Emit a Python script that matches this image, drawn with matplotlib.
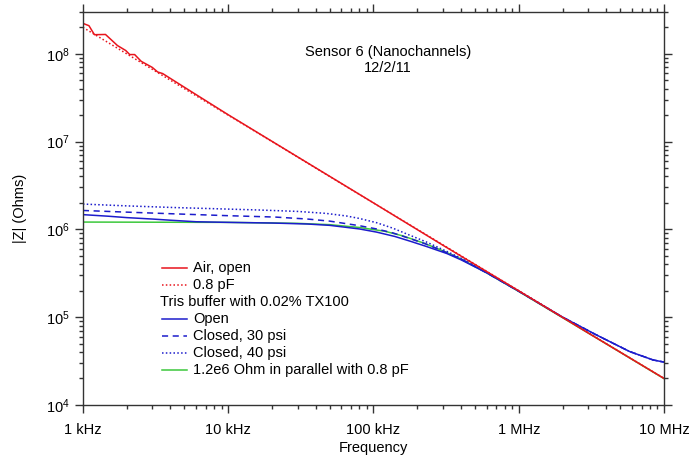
import matplotlib
matplotlib.use("Agg")
import matplotlib.pyplot as plt
from matplotlib.ticker import FixedLocator, FixedFormatter, LogLocator, NullFormatter

plt.rcParams["font.family"] = ["Liberation Sans", "DejaVu Sans"]
plt.rcParams["mathtext.fontset"] = "custom"
plt.rcParams["mathtext.rm"] = "Liberation Sans"

# --- data (frequency in Hz, |Z| in Ohms) ---
freq_air = [1000, 1100, 1200, 1430, 1730, 1970, 2100, 2270, 2520, 3000, 3270, 3540,
            5000, 10000, 30000, 100000, 300000, 1e6, 3e6, 1e7]
z_air = [2.22e8, 2.09e8, 1.65e8, 1.66e8, 1.24e8, 1.09e8, 9.8e7, 9.8e7, 8.2e7, 7.0e7,
         6.2e7, 5.95e7, 4.15e7, 2.02e7, 6.7e6, 2.0e6, 6.6e5, 1.99e5, 6.6e4, 2.0e4]

freq_cap = [1000, 1e7]
z_cap = [2.0e8, 2.0e4]

freq_open = [1e3, 1.5e3, 2e3, 3e3, 4e3, 6e3, 1e4, 2e4, 3.5e4, 5e4, 8e4, 1.05e5, 1.4e5,
             1.8e5, 2.3e5, 3.2e5, 4e5, 6e5, 1e6, 2e6, 3.4e6, 5.8e6, 8.4e6, 1e7]
z_open = [1.47e6, 1.41e6, 1.36e6, 1.31e6, 1.27e6, 1.22e6, 1.20e6, 1.18e6, 1.15e6, 1.11e6,
          1.01e6, 9.3e5, 8.3e5, 7.3e5, 6.4e5, 5.3e5, 4.5e5, 3.2e5, 1.97e5, 1.0e5, 6.3e4,
          4.05e4, 3.25e4, 3.07e4]

freq_30 = [1e3, 2e3, 4.3e3, 1e4, 2.1e4, 3.5e4, 5e4, 8e4, 1.05e5, 1.36e5, 1.8e5, 2.3e5,
           3.2e5, 4e5, 6e5, 1e6, 2e6, 3.4e6, 5.8e6, 8.4e6, 1e7]
z_30 = [1.64e6, 1.57e6, 1.50e6, 1.43e6, 1.38e6, 1.31e6, 1.24e6, 1.10e6, 1.01e6, 9.1e5,
        7.8e5, 6.8e5, 5.4e5, 4.6e5, 3.2e5, 1.97e5, 1.0e5, 6.3e4, 4.05e4, 3.25e4, 3.07e4]

freq_40 = [1e3, 2e3, 4.3e3, 1e4, 1.64e4, 3e4, 4.7e4, 6.5e4, 8e4, 1.05e5, 1.36e5, 1.8e5,
           2.3e5, 3.2e5, 4e5, 6e5, 1e6, 2e6, 3.4e6, 5.8e6, 8.4e6, 1e7]
z_40 = [1.94e6, 1.85e6, 1.77e6, 1.70e6, 1.66e6, 1.60e6, 1.52e6, 1.42e6, 1.33e6, 1.19e6,
        1.03e6, 8.5e5, 7.2e5, 5.6e5, 4.7e5, 3.25e5, 1.98e5, 1.0e5, 6.3e4, 4.05e4, 3.25e4,
        3.07e4]

freq_model = [1e3, 1e4, 3e4, 5e4, 8e4, 1.2e5, 1.6e5, 2.2e5, 3e5, 4e5, 6e5, 1e6, 3e6, 1e7]
z_model = [1.21e6, 1.20e6, 1.17e6, 1.13e6, 1.05e6, 9.5e5, 8.4e5, 7.0e5, 5.7e5, 4.6e5,
           3.2e5, 1.96e5, 6.6e4, 1.99e4]

x_ticks = [1e3, 1e4, 1e5, 1e6, 1e7]
x_tick_labels = ["1 kHz", "10 kHz", "100 kHz", "1 MHz", "10 MHz"]
y_ticks = [1e4, 1e5, 1e6, 1e7, 1e8]
y_tick_labels = [r"$\mathrm{10^{4}}$", r"$\mathrm{10^{5}}$", r"$\mathrm{10^{6}}$",
                 r"$\mathrm{10^{7}}$", r"$\mathrm{10^{8}}$"]

RED = "#e8141c"
BLUE = "#1c1ccc"
GREEN = "#3cc83c"

fig = plt.figure(figsize=(6.91, 4.58), dpi=100)
ax = fig.add_axes([0.120, 0.116, 0.841, 0.858])

lw = 1.1
ax.plot(freq_model, z_model, color=GREEN, lw=lw)
ax.plot(freq_open, z_open, color=BLUE, lw=lw)
ax.plot(freq_30, z_30, color=BLUE, lw=lw, ls=(0, (4, 3)))
ax.plot(freq_40, z_40, color=BLUE, lw=lw, ls=(0, (1, 1.5)))
ax.plot(freq_cap, z_cap, color=RED, lw=lw, ls=(0, (1, 1.5)))
ax.plot(freq_air, z_air, color=RED, lw=lw)

ax.set_xscale("log")
ax.set_yscale("log")
ax.set_xlim(1e3, 1e7)
ax.set_ylim(1e4, 3e8)

ax.xaxis.set_major_locator(FixedLocator(x_ticks))
ax.xaxis.set_major_formatter(FixedFormatter(x_tick_labels))
ax.yaxis.set_major_locator(FixedLocator(y_ticks))
ax.yaxis.set_major_formatter(FixedFormatter(y_tick_labels))
for axis in (ax.xaxis, ax.yaxis):
    axis.set_minor_locator(LogLocator(base=10, subs=range(2, 10), numticks=20))
    axis.set_minor_formatter(NullFormatter())

ax.tick_params(which="both", direction="out", top=True, right=True,
               color="#333333", width=1.0, labelsize=10.5)
ax.tick_params(which="major", length=6)
ax.tick_params(which="minor", length=3)
ax.tick_params(axis="x", which="major", pad=7)
for s in ax.spines.values():
    s.set_color("#333333")
    s.set_linewidth(1.0)

ax.set_xlabel("Frequency", fontsize=10.5, labelpad=3)
ax.set_ylabel("|Z| (Ohms)", fontsize=10.5, labelpad=14)

ax.text(0.525, 0.899, "Sensor 6 (Nanochannels)", transform=ax.transAxes,
        ha="center", va="center", fontsize=10.5)
ax.text(0.525, 0.858, "12/2/11", transform=ax.transAxes,
        ha="center", va="center", fontsize=10.5)

# hand-built legend (one header row without a handle)
legend_rows = [
    ("Air, open", RED, "-"),
    ("0.8 pF", RED, (0, (1, 1.5))),
    ("Tris buffer with 0.02% TX100", None, None),
    ("Open", BLUE, "-"),
    ("Closed, 30 psi", BLUE, (0, (4, 3))),
    ("Closed, 40 psi", BLUE, (0, (1, 1.5))),
    ("1.2e6 Ohm in parallel with 0.8 pF", GREEN, "-"),
]
y0, dy = 0.349, 0.0433
for i, (label, color, style) in enumerate(legend_rows):
    yy = y0 - i * dy
    if color is None:
        ax.text(0.133, yy, label, transform=ax.transAxes, va="center", fontsize=10.5)
        continue
    ax.plot([0.136, 0.179], [yy, yy], transform=ax.transAxes, color=color, lw=lw, ls=style)
    ax.text(0.189, yy, label, transform=ax.transAxes, va="center", fontsize=10.5)

fig.savefig("out.png", dpi=100)
